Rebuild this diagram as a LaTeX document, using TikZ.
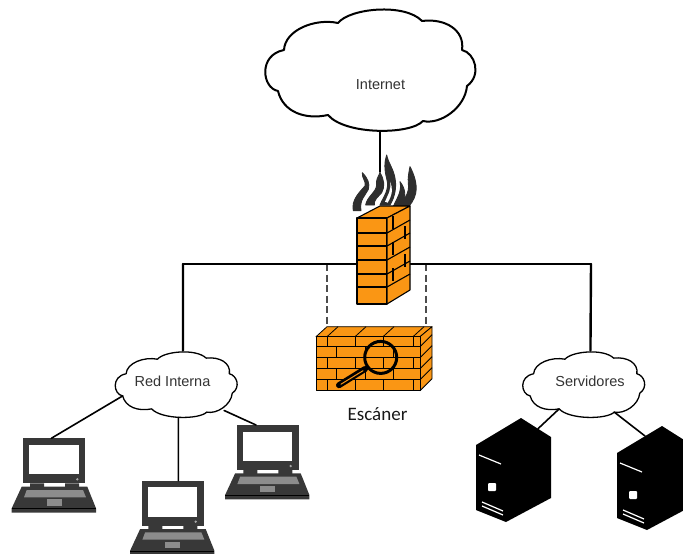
\documentclass[tikz,border=0pt]{standalone}
\usepackage{fontspec}
\setmainfont{Liberation Sans}
\newfontfamily\escfont{Carlito}
\definecolor{brick}{RGB}{250,150,20}
\tikzset{
  cloudlabel/.style={text=black!80,font=\fontsize{14.5}{16}\selectfont},
  wire/.style={line width=1.6pt,line cap=round},
  buswire/.style={line width=2.4pt,line cap=round},
  dashwire/.style={line width=2.4pt,black!70,dash pattern=on 7pt off 3.5pt},
  mortar/.style={line width=1.1pt,line join=round},
  pics/netcloud/.style={code={
    \coordinate (-n) at (12,-61);
    \coordinate (-s) at (10,63);
    \coordinate (-b) at (4,63);
    \coordinate (-w) at (-92,23);
    \coordinate (-e) at (83,50);
    \coordinate (-sw) at (-42,47);
    \coordinate (-se) at (53,53);
    \filldraw[fill=white,line join=round,#1] (-32,-45) .. controls (-20,-60) and (35,-65) .. (52,-47)
      .. controls (75,-50) and (95,-38) .. (92,-18) .. controls (105,-15) and (112,7) .. (97,18)
      .. controls (95,40) and (70,57) .. (53,53) .. controls (40,67) and (-25,67) .. (-42,47)
      .. controls (-65,52) and (-87,44) .. (-92,23) .. controls (-108,20) and (-112,-13) .. (-86,-18)
      .. controls (-85,-38) and (-55,-50) .. (-32,-45) -- cycle;
  }},
  pics/laptop/.style={code={
    \coordinate (-top) at (#1,0);
    \fill[black!78] (0,0) rectangle (62,45);
    \fill[white] (6,6.7) rectangle (55.4,36);
    \fill[black!78] (6.7,45) rectangle (20.7,49) (41.7,45) rectangle (55.7,49);
    \fill[black!78] (-1.6,48.4) -- (64,48.4) -- (72.7,70) -- (72.7,74.4) -- (-11.6,74.4) -- (-11.6,70) -- cycle;
    \fill[black!45] (3.4,51.7) -- (59.7,51.7) -- (62.7,59) -- (0.7,59) -- cycle;
    \fill[black!45] (23.4,61) rectangle (38.4,67.4);
    \draw[black,line width=0.8pt] (-11.6,70.2) -- (72.7,70.2);
    \fill[black!35] (54,41) circle (1.3);
  }},
  pics/server/.style={code={
    \coordinate (-l) at (-17,10);
    \coordinate (-r) at (17,10.7);
    \fill[black] (-45,27) -- (0,0) -- (30,19) -- (30,80) -- (-15,104) -- (-45,92) -- cycle;
    \draw[white,line width=1.2pt] (-42,37) -- (-20,46);
    \fill[white,rounded corners=1pt] (-33,65) rectangle (-25,73);
    \draw[white,line width=1.2pt] (-39,84) -- (-18,93) (-39,88) -- (-18,97);
  }},
  pics/firewall/.style={code={
    \coordinate (-flame) at (23,-46);
    \begin{scope}[shift={(-12,-68)},scale=1/3,black!82,line width=0.9pt,line join=round]
      \filldraw (25,182) .. controls (18,150) and (45,125) .. (60,108) .. controls (65,95) and (50,85) .. (52,68) .. controls (68,85) and (75,100) .. (70,118) .. controls (62,135) and (42,150) .. (48,182) -- cycle;
      \filldraw (62,165) .. controls (66,140) and (95,125) .. (95,105) .. controls (92,90) and (100,80) .. (105,68) .. controls (118,90) and (120,110) .. (110,128) .. controls (100,140) and (85,150) .. (88,165) -- cycle;
      \filldraw (105,165) .. controls (115,140) and (135,120) .. (125,85) .. controls (118,60) and (118,35) .. (125,15) .. controls (130,40) and (145,55) .. (150,85) .. controls (155,110) and (150,140) .. (135,165) -- cycle;
      \filldraw (145,170) .. controls (155,145) and (172,125) .. (165,95) .. controls (180,115) and (185,135) .. (172,170) -- cycle;
      \filldraw (160,178) .. controls (175,150) and (195,130) .. (190,100) .. controls (188,85) and (192,65) .. (195,50) .. controls (205,70) and (218,100) .. (212,130) .. controls (208,150) and (195,165) .. (185,178) -- cycle;
      \fill[white] (120,155) .. controls (128,135) and (140,120) .. (135,95) .. controls (145,115) and (142,135) .. (128,158) -- cycle;
    \end{scope}
    \filldraw[fill=brick,mortar] (0,0) -- (23,-12) -- (53,-12) -- (30,0) -- cycle;
    \filldraw[fill=brick,mortar] (0,0) rectangle (30,86);
    \filldraw[fill=brick,mortar] (30,0) -- (53,-12) -- (53,72) -- (30,86) -- cycle;
    \foreach \y in {15,28,42,56,69} {
      \draw[mortar] (0,\y) -- (30,\y);
      \draw[mortar] (30,\y) -- (53,\y-13);
    }
    \foreach \x/\y in {36/-2,48/8,36/24,48/36,36/50} {
      \draw[mortar] (\x,\y) -- (\x,\y+13);
    }
  }},
  pics/scanner/.style={code={
    \coordinate (-l) at (11,-10);
    \coordinate (-r) at (110,-10);
    \begin{scope}[line width=0.8pt,line join=round]
      \filldraw[fill=brick] (0,0) -- (11,-10) -- (116,-10) -- (104,0) -- cycle;
      \filldraw[fill=brick] (104,0) -- (116,-10) -- (116,42) -- (104,54) -- cycle;
      \filldraw[fill=brick] (0,0) rectangle (104,54);
      \foreach \x in {11,39,67,97} {
        \draw (\x,0) -- (\x+11,-10);
        \draw (\x,0) -- (\x,10) (\x,21) -- (\x,32) (\x,43) -- (\x,54);
      }
      \foreach \x in {20,49,77} {
        \draw (\x,10) -- (\x,21) (\x,32) -- (\x,43);
      }
      \foreach \y in {10,21,32,43} {
        \draw (0,\y) -- (104,\y);
        \draw (104,\y) -- (116,\y-12);
      }
    \end{scope}
    \draw[black,line width=3pt] (64.7,20.7) circle (16);
    \draw[black,line width=6pt,line cap=round] (49,32.3) -- (23,48.5);
    \draw[brick,line width=1pt,line cap=round] (47,34) -- (25,47.5);
  }}
}
\begin{document}
\begin{tikzpicture}
        [x=1pt,y=-1pt]
        \useasboundingbox (0,0) rectangle (683,554);
        \clip (0,0) rectangle (683,554);

        \coordinate (busl) at (183,264);
        \coordinate (busr) at (591,264);
        \pic (internet) at (370,68) {netcloud={line width=2pt}};
        \pic[xscale=0.58,yscale=0.54] (redint) at (176,383.5) {netcloud={line width=1.3pt}};
        \pic[xscale=0.58,yscale=0.54] (servers) at (583.5,383.5) {netcloud={line width=1.3pt}};
        \node[cloudlabel] (internetlabel) at (380.5,85) {Internet};
        \node[cloudlabel] (redintlabel) at (172.5,381.5) {Red Interna};
        \node[cloudlabel] (serverslabel) at (590,381.5) {Servidores};

        \pic (scan) at (316,336.7) {scanner};

        \draw[dashwire] (scan-l |- busl) -- (scan-l);
        \draw[dashwire] (scan-r |- busl) -- (scan-r);
        \draw[buswire] (busl) -- (busr);
        \draw[buswire] (busl) -- (redint-n);
        \draw[buswire] (busr) -- (servers-n);

        \draw[wire] (internet-s) -- (380,172) coordinate (firetop);
        \pic (fire) at (357,218) {firewall};

        \pic (lapa) at (23.3,438.3) {laptop=28};
        \pic (lapb) at (141.7,480.7) {laptop=36.6};
        \pic (lapc) at (236.7,425) {laptop=19.3};
        \pic (srva) at (521,418) {server};
        \pic (srvb) at (662,426) {server};

        \draw[wire] (redint-w) -- (lapa-top);
        \draw[wire] (redint-b) -- (lapb-top);
        \draw[wire] (redint-e) -- (lapc-top);
        \draw[wire] (servers-sw) -- (srva-r);
        \draw[wire] (servers-se) -- (srvb-l);

        \node[font=\escfont\fontsize{19}{22}\selectfont,text=black!90] (esc) at (377.5,414) {Escáner};
      \end{tikzpicture}
\end{document}
